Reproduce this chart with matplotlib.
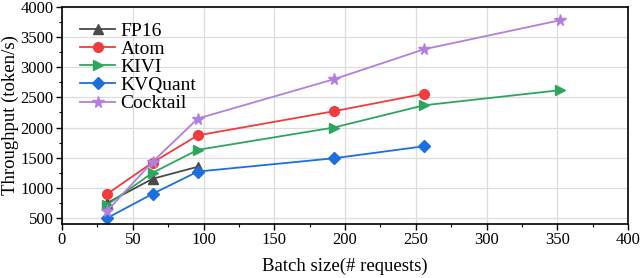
import matplotlib.pyplot as plt
from matplotlib.ticker import MultipleLocator

plt.rcParams['font.family'] = ['Liberation Serif', 'DejaVu Serif']

batch = [32, 64, 96, 192, 256, 352]
fp16 = [750, 1150, 1350]
atom = [900, 1420, 1870, 2270, 2560]
kivi = [720, 1250, 1630, 2000, 2370, 2620]
kvquant = [500, 900, 1270, 1490, 1690]
cocktail = [620, 1430, 2150, 2800, 3300, 3780]

series = [
    ("FP16", fp16, "#4a4a4a", "^", 7.5),
    ("Atom", atom, "#f03c3c", "o", 7),
    ("KIVI", kivi, "#2ea55e", ">", 7.5),
    ("KVQuant", kvquant, "#1c6fdc", "D", 6),
    ("Cocktail", cocktail, "#b27fe0", "*", 8.5),
]

fig = plt.figure(figsize=(6.4, 2.78), dpi=100)
ax = fig.add_axes([62 / 640, 1 - 224 / 278, 566 / 640, 217 / 278])

for name, vals, color, marker, ms in series:
    ax.plot(batch[:len(vals)], vals, color=color, marker=marker, markersize=ms,
            linewidth=1.3, label=name)

ax.set_xlim(0, 400)
ax.set_ylim(400, 4000)
ax.xaxis.set_major_locator(MultipleLocator(50))
ax.xaxis.set_minor_locator(MultipleLocator(25))
ax.yaxis.set_major_locator(MultipleLocator(500))
ax.yaxis.set_minor_locator(MultipleLocator(250))
ax.grid(True, which='major', color='#dddddd', linewidth=0.9)
ax.set_axisbelow(True)
ax.tick_params(axis='both', which='major', labelsize=12, length=4, width=1, pad=2)
ax.tick_params(axis='both', which='minor', length=2.5, width=0.8)
for s in ax.spines.values():
    s.set_linewidth(1.2)

ax.set_xlabel("Batch size(# requests)", fontsize=13.5, labelpad=7)
ax.set_ylabel("Throughput (token/s)", fontsize=13.5, labelpad=1)
ax.legend(loc='upper left', bbox_to_anchor=(0.012, 0.985), frameon=False,
          fontsize=14, handlelength=1.8, borderaxespad=0.2, labelspacing=0.03,
          handletextpad=0.25)

fig.savefig("out.png", dpi=100)
